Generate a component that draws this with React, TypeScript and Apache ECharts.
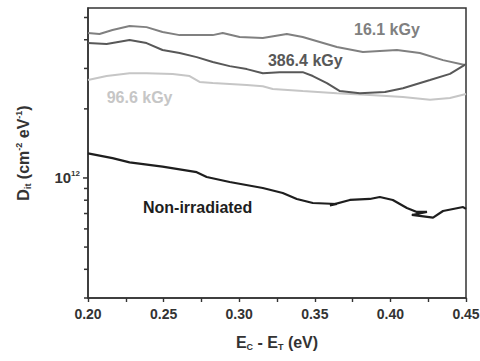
import React, { useEffect, useRef } from "react";
import * as echarts from "echarts";

// Energy (eV) and Dit (units of 1e12 cm^-2 eV^-1)
const e161 = [0.2, 0.2076, 0.2162, 0.2275, 0.2387, 0.2493, 0.2606, 0.2825, 0.2891, 0.3003, 0.3156, 0.3315, 0.342, 0.3533, 0.3646, 0.3818, 0.4043, 0.4195, 0.4348, 0.45];
const d161 = [4.28, 4.24, 4.41, 4.59, 4.54, 4.32, 4.19, 4.19, 4.28, 4.11, 4.07, 4.24, 4.11, 3.91, 3.72, 3.54, 3.61, 3.5, 3.26, 3.1];

const e3864 = [0.2, 0.2123, 0.2275, 0.2387, 0.2493, 0.2606, 0.2719, 0.2825, 0.2937, 0.305, 0.3156, 0.3268, 0.342, 0.3487, 0.358, 0.3666, 0.3798, 0.3964, 0.4083, 0.4262, 0.4394, 0.45];
const d3864 = [3.87, 3.83, 3.99, 3.87, 3.61, 3.5, 3.36, 3.2, 3.07, 2.98, 2.86, 2.89, 2.89, 2.78, 2.59, 2.39, 2.34, 2.37, 2.46, 2.67, 2.84, 3.13];

const e966 = [0.2, 0.2123, 0.2275, 0.2387, 0.256, 0.2672, 0.2738, 0.2825, 0.305, 0.3156, 0.3222, 0.342, 0.3646, 0.3864, 0.4083, 0.4262, 0.4394, 0.45];
const d966 = [2.67, 2.78, 2.86, 2.86, 2.84, 2.78, 2.62, 2.59, 2.54, 2.51, 2.44, 2.39, 2.34, 2.3, 2.25, 2.19, 2.23, 2.32];

const eNon = [0.2, 0.2162, 0.2275, 0.2493, 0.2719, 0.2785, 0.2937, 0.3156, 0.3288, 0.3381, 0.3487, 0.3646, 0.3600, 0.3732, 0.3864, 0.393, 0.4016, 0.4109, 0.4175, 0.4242, 0.4142, 0.4282, 0.4348, 0.4481, 0.45];
const dNon = [1.28, 1.22, 1.17, 1.12, 1.06, 1.01, 0.96, 0.904, 0.86, 0.81, 0.778, 0.77, 0.76, 0.802, 0.81, 0.826, 0.802, 0.74, 0.711, 0.711, 0.69, 0.672, 0.718, 0.747, 0.733];

const yTickValues = [3, 4, 5, 6, 7, 8, 9, 10, 20, 30, 40, 50]; // units of 1e11
const xTickLabels = ["0.20", "0.25", "0.30", "0.35", "0.40", "0.45"];

const UNIT = 1e12;
const X_MIN = 0.2;
const X_MAX = 0.45;
const Y_MIN = 3e11;
const Y_MAX = 5.5e12;

const FONT = "'Liberation Sans', Arial, sans-serif";

function pairs(e: number[], d: number[]) {
  return e.map((x, i) => [x, d[i] * UNIT]);
}

function labelPoint(coord: number[], text: string, color: string) {
  return {
    symbol: "circle",
    symbolSize: 0,
    data: [
      {
        coord,
        label: {
          show: true,
          position: "inside",
          formatter: text,
          color,
          fontFamily: FONT,
          fontWeight: "bold",
          fontSize: 16,
        },
      },
    ],
  };
}

export default function App() {
  const ref = useRef<HTMLDivElement>(null);
  useEffect(() => {
    if (!ref.current) return;
    const chart = echarts.init(ref.current, undefined, { renderer: "svg" });
    const c161 = "#808080";
    const c3864 = "#585858";
    const c966 = "#c6c6c6";
    const cNon = "#1e1e1e";
    const lineSeries = (name: string, data: number[][], color: string, mp: any, w = 2) => ({
      name,
      type: "line",
      data,
      showSymbol: false,
      symbol: "none",
      lineStyle: { color, width: w },
      markPoint: mp,
      silent: true,
      z: 3,
    });
    chart.setOption({
      animation: false,
      grid: {
        left: 88,
        right: 14,
        top: 8,
        bottom: 63,
        outerBoundsMode: "none",
        show: true,
        borderColor: "#333",
        borderWidth: 1.5,
      },
      xAxis: {
        type: "value",
        min: X_MIN,
        max: X_MAX,
        interval: 0.05,
        name: "{b|E}{s|C}{b| - E}{s|T}{b| (eV)}",
        nameLocation: "middle",
        nameGap: 35,
        nameTextStyle: {
          rich: {
            b: { fontFamily: FONT, fontWeight: "bold", fontSize: 16, color: "#333", lineHeight: 18, verticalAlign: "middle" },
            s: { fontFamily: FONT, fontWeight: "bold", fontSize: 9, color: "#333", lineHeight: 9, verticalAlign: "bottom" },
          },
        },
        axisLine: { show: true, lineStyle: { color: "#333", width: 1.5 } },
        axisTick: { show: true, length: 4, lineStyle: { color: "#333", width: 1.4 } },
        minorTick: { show: true, splitNumber: 2, length: 4, lineStyle: { color: "#333", width: 1.4 } },
        splitLine: { show: false },
        axisLabel: {
          margin: 9,
          fontFamily: FONT,
          fontWeight: "bold",
          fontSize: 14,
          color: "#333",
          formatter: (v: number) => {
            const idx = Math.round((v - X_MIN) / 0.05);
            return xTickLabels[idx] ?? "";
          },
        },
      },
      yAxis: {
        type: "log",
        logBase: 10,
        min: Y_MIN,
        max: Y_MAX,
        name: "{b|D}{s|it}{b| (cm}{p|-2}{b| eV}{p|-1}{b|)}",
        nameLocation: "middle",
        nameRotate: 90,
        nameGap: 56,
        nameTextStyle: {
          rich: {
            b: { fontFamily: FONT, fontWeight: "bold", fontSize: 16, color: "#333", lineHeight: 18, verticalAlign: "middle" },
            s: { fontFamily: FONT, fontWeight: "bold", fontSize: 9, color: "#333", lineHeight: 9, verticalAlign: "bottom" },
            p: { fontFamily: FONT, fontWeight: "bold", fontSize: 9, color: "#333", lineHeight: 9, verticalAlign: "top" },
          },
        },
        axisLine: { show: true, lineStyle: { color: "#333", width: 1.5 } },
        axisTick: { show: false },
        splitLine: { show: false },
        axisLabel: {
          margin: 8,
          showMinLabel: false,
          showMaxLabel: false,
          formatter: (v: number) => (Math.abs(Math.log10(v) - 12) < 0.01 ? "{a|10}{e|12}" : ""),
          rich: {
            a: { fontFamily: FONT, fontWeight: "bold", fontSize: 15, color: "#333", lineHeight: 16, verticalAlign: "middle" },
            e: { fontFamily: FONT, fontWeight: "bold", fontSize: 8, color: "#333", lineHeight: 8, verticalAlign: "top" },
          },
        },
      },
      series: [
        lineSeries("96.6 kGy", pairs(e966, d966), c966, labelPoint([0.2341, 2.25e12], "96.6 kGy", c966)),
        lineSeries("16.1 kGy", pairs(e161, d161), c161, labelPoint([0.3977, 4.45e12], "16.1 kGy", c161)),
        lineSeries("386.4 kGy", pairs(e3864, d3864), c3864, labelPoint([0.3437, 3.26e12], "386.4 kGy", c3864)),
        lineSeries("Non-irradiated", pairs(eNon, dNon), cNon, labelPoint([0.2725, 0.74e12], "Non-irradiated", cNon), 2.2),
      ],
    });
    // y-axis ticks at 3e11..9e11, 1e12..5e12, positioned by the chart's own log scale
    const ticks = yTickValues.map((v) => {
      const val = v * 1e11;
      const p = chart.convertToPixel({ gridIndex: 0 }, [X_MIN, val]) as number[];
      const major = Math.abs(val - 1e12) < 1;
      const len = major ? 5 : 4;
      return {
        type: "line",
        silent: true,
        z: 10,
        shape: { x1: p[0] - len, y1: p[1], x2: p[0], y2: p[1] },
        style: { stroke: "#333", lineWidth: 1.5 },
      };
    });
    chart.setOption({ graphic: ticks });
    return () => chart.dispose();
  }, []);
  return <div ref={ref} style={{ width: 480, height: 361, position: "absolute", left: 0, top: 0 }} />;
}
